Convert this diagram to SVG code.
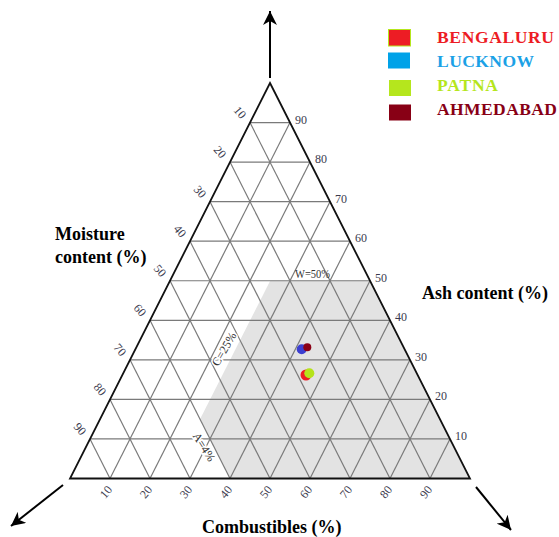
<svg xmlns="http://www.w3.org/2000/svg" width="559" height="537" viewBox="0 0 559 537">
<style>
.grid line{stroke:#7a7a7a;stroke-width:1.2}
.edge{stroke:#111;stroke-width:1.8;fill:none}
.tick{font-family:"Liberation Serif","Times New Roman",serif;font-size:12px;fill:#3a3a4e}
.title{font-family:"Liberation Serif","Times New Roman",serif;font-size:18px;font-weight:bold;fill:#000}
.leg{font-family:"Liberation Serif","Times New Roman",serif;font-size:17.5px;font-weight:bold}
.ann{font-family:"Liberation Serif","Times New Roman",serif;font-size:12px;fill:#333}
.halo{stroke:#fff;stroke-width:3;paint-order:stroke}
.arrow{stroke:#000;stroke-width:2;fill:none;marker-end:url(#ah)}
</style>
<defs>
<marker id="ah" markerWidth="16" markerHeight="14" refX="14" refY="7" orient="auto" markerUnits="userSpaceOnUse">
<path d="M0,0 L14,7 L0,14 L4,7 z" fill="#000"/>
</marker>
</defs>
<rect width="559" height="537" fill="#fff"/>
<g id="region">
<polygon points="270.2,280.75 370,280.75 470,478.5 230,478.5 200,419.2" fill="#e3e3e3"/>
</g>
<g id="grid" class="grid">
<line x1="90" y1="438.95" x2="450" y2="438.95"/>
<line x1="110" y1="399.4" x2="430" y2="399.4"/>
<line x1="130" y1="359.85" x2="410" y2="359.85"/>
<line x1="150" y1="320.3" x2="390" y2="320.3"/>
<line x1="170" y1="280.75" x2="370" y2="280.75"/>
<line x1="190" y1="241.2" x2="350" y2="241.2"/>
<line x1="210" y1="201.65" x2="330" y2="201.65"/>
<line x1="230" y1="162.1" x2="310" y2="162.1"/>
<line x1="250" y1="122.55" x2="290" y2="122.55"/>
<line x1="110" y1="478.5" x2="290" y2="122.55"/>
<line x1="150" y1="478.5" x2="310" y2="162.1"/>
<line x1="190" y1="478.5" x2="330" y2="201.65"/>
<line x1="230" y1="478.5" x2="350" y2="241.2"/>
<line x1="270" y1="478.5" x2="370" y2="280.75"/>
<line x1="310" y1="478.5" x2="390" y2="320.3"/>
<line x1="350" y1="478.5" x2="410" y2="359.85"/>
<line x1="390" y1="478.5" x2="430" y2="399.4"/>
<line x1="430" y1="478.5" x2="450" y2="438.95"/>
<line x1="110" y1="478.5" x2="90" y2="438.95"/>
<line x1="150" y1="478.5" x2="110" y2="399.4"/>
<line x1="190" y1="478.5" x2="130" y2="359.85"/>
<line x1="230" y1="478.5" x2="150" y2="320.3"/>
<line x1="270" y1="478.5" x2="170" y2="280.75"/>
<line x1="310" y1="478.5" x2="190" y2="241.2"/>
<line x1="350" y1="478.5" x2="210" y2="201.65"/>
<line x1="390" y1="478.5" x2="230" y2="162.1"/>
<line x1="430" y1="478.5" x2="250" y2="122.55"/>
</g>
<g id="triangle">
<polygon class="edge" points="270,83 470,478.5 70,478.5"/>
</g>
<g id="connectors">
<line class="arrow" x1="270" y1="78" x2="270" y2="11"/>
<line class="arrow" x1="63" y1="485" x2="11" y2="526"/>
<line class="arrow" x1="476" y1="487" x2="511" y2="530"/>
</g>
<g id="ticks-left" class="tick" text-anchor="middle">
<text transform="translate(240,112.5) rotate(50)" y="4">10</text>
<text transform="translate(220,152) rotate(50)" y="4">20</text>
<text transform="translate(200,191.7) rotate(50)" y="4">30</text>
<text transform="translate(180,231.2) rotate(50)" y="4">40</text>
<text transform="translate(160,270.8) rotate(50)" y="4">50</text>
<text transform="translate(140,310.3) rotate(50)" y="4">60</text>
<text transform="translate(120,349.9) rotate(50)" y="4">70</text>
<text transform="translate(100,389.4) rotate(50)" y="4">80</text>
<text transform="translate(80,429) rotate(50)" y="4">90</text>
</g>
<g id="ticks-right" class="tick">
<text x="295" y="123.5">90</text>
<text x="315" y="163">80</text>
<text x="335" y="202.6">70</text>
<text x="355" y="242.2">60</text>
<text x="375" y="281.7">50</text>
<text x="395" y="321.3">40</text>
<text x="415" y="360.8">30</text>
<text x="435" y="400.4">20</text>
<text x="455" y="440">10</text>
</g>
<g id="ticks-bottom" class="tick" text-anchor="middle">
<text transform="translate(106,492) rotate(-50)" y="4">10</text>
<text transform="translate(146,492) rotate(-50)" y="4">20</text>
<text transform="translate(186,492) rotate(-50)" y="4">30</text>
<text transform="translate(226,492) rotate(-50)" y="4">40</text>
<text transform="translate(266,492) rotate(-50)" y="4">50</text>
<text transform="translate(306,492) rotate(-50)" y="4">60</text>
<text transform="translate(346,492) rotate(-50)" y="4">70</text>
<text transform="translate(386,492) rotate(-50)" y="4">80</text>
<text transform="translate(426,492) rotate(-50)" y="4">90</text>
</g>
<g id="annotations" class="ann">
<text x="295" y="278" textLength="35" lengthAdjust="spacingAndGlyphs">W=50%</text>
<text class="halo" transform="translate(224,349) rotate(-60)" y="4" text-anchor="middle">C=25%</text>
<text class="halo" transform="translate(204,447) rotate(58)" y="4" text-anchor="middle">A=4%</text>
</g>
<g id="axis-titles" class="title">
<text x="55" y="240">Moisture</text>
<text x="55" y="263">content (%)</text>
<text x="422" y="299">Ash content (%)</text>
<text x="202" y="533">Combustibles (%)</text>
</g>
<g id="data-points">
<circle cx="301.7" cy="349.3" r="5" fill="#3c3fd0"/>
<circle cx="307.3" cy="347.3" r="4" fill="#8b0016"/>
<circle cx="306" cy="375" r="5.5" fill="#ee1c25"/>
<circle cx="309.3" cy="373.3" r="5" fill="#b5e31a"/>
</g>
<g id="legend" class="leg">
<g id="legend-bengaluru">
<rect x="388.5" y="29.5" width="22" height="16.5" fill="#ed1c24" stroke="#b5e61d" stroke-width="1"/>
<text x="437" y="43" fill="#ed1c24" textLength="117">BENGALURU</text>
</g>
<g id="legend-lucknow">
<rect x="388" y="52.5" width="22" height="16" fill="#00a2e8"/>
<text x="437" y="67" fill="#1ba1e6" textLength="97">LUCKNOW</text>
</g>
<g id="legend-patna">
<rect x="389" y="80" width="22" height="16" fill="#b5e61d"/>
<text x="437" y="91" fill="#b5e61d" textLength="61">PATNA</text>
</g>
<g id="legend-ahmedabad">
<rect x="389" y="104.5" width="22" height="16" fill="#880015"/>
<text x="437" y="115" fill="#880015" textLength="120">AHMEDABAD</text>
</g>
</g>
</svg>
